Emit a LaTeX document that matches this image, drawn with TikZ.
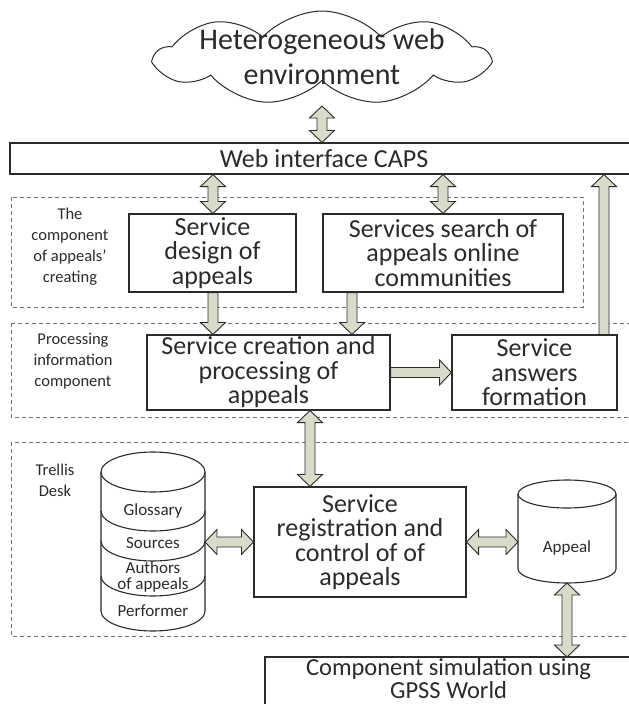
\documentclass[tikz,border=0pt]{standalone}
\usepackage{fontspec}
\setmainfont{Carlito}
\usetikzlibrary{shapes.symbols,calc}
\definecolor{arrowfill}{HTML}{D9DBC9}
\definecolor{ink}{HTML}{2B2B2B}
\def\fhw{12.5pt}\def\fsw{5pt}\def\fhl{12pt}
\tikzset{
 box/.style={draw=ink, line width=1.1pt, fill=white, inner sep=0pt, align=center, text=ink, font=\fontsize{26}{24.5}\selectfont},
 zone/.style={draw=black!55, dash pattern=on 4pt off 3pt, line width=0.7pt},
 zonelabel/.style={align=center, text=ink, font=\fontsize{16.5}{21}\selectfont, inner sep=0pt},
 dblabel/.style={align=center, text=ink, font=\fontsize{17}{15.5}\selectfont, inner sep=0pt},
 fat/.style={fill=arrowfill, draw=ink, line width=0.9pt, line join=miter},
 cyl/.style={draw=ink, line width=1.1pt},
}
\newcommand\fatDblV[2]{\filldraw[fat] let \p1=(#1), \p2=(#2) in (\x1,\y1) -- (\x1+\fhw,\y1-\fhl) -- (\x1+\fsw,\y1-\fhl) -- (\x1+\fsw,\y2+\fhl) -- (\x1+\fhw,\y2+\fhl) -- (\x1,\y2) -- (\x1-\fhw,\y2+\fhl) -- (\x1-\fsw,\y2+\fhl) -- (\x1-\fsw,\y1-\fhl) -- (\x1-\fhw,\y1-\fhl) -- cycle;}
\newcommand\fatDown[2]{\filldraw[fat] let \p1=(#1), \p2=(#2) in (\x1-\fsw,\y1) -- (\x1-\fsw,\y2+\fhl) -- (\x1-\fhw,\y2+\fhl) -- (\x1,\y2) -- (\x1+\fhw,\y2+\fhl) -- (\x1+\fsw,\y2+\fhl) -- (\x1+\fsw,\y1) -- cycle;}
\newcommand\fatUp[2]{\filldraw[fat] let \p1=(#1), \p2=(#2) in (\x1,\y1) -- (\x1+\fhw,\y1-\fhl) -- (\x1+\fsw,\y1-\fhl) -- (\x1+\fsw,\y2) -- (\x1-\fsw,\y2) -- (\x1-\fsw,\y1-\fhl) -- (\x1-\fhw,\y1-\fhl) -- cycle;}
\newcommand\fatRight[2]{\filldraw[fat] let \p1=(#1), \p2=(#2) in (\x1,\y1+\fsw) -- (\x2-\fhl,\y1+\fsw) -- (\x2-\fhl,\y1+\fhw) -- (\x2,\y1) -- (\x2-\fhl,\y1-\fhw) -- (\x2-\fhl,\y1-\fsw) -- (\x1,\y1-\fsw) -- cycle;}
\newcommand\fatDblH[2]{\filldraw[fat] let \p1=(#1), \p2=(#2) in (\x1,\y1) -- (\x1+\fhl,\y1+\fhw) -- (\x1+\fhl,\y1+\fsw) -- (\x2-\fhl,\y1+\fsw) -- (\x2-\fhl,\y1+\fhw) -- (\x2,\y1) -- (\x2-\fhl,\y1-\fhw) -- (\x2-\fhl,\y1-\fsw) -- (\x1+\fhl,\y1-\fsw) -- (\x1+\fhl,\y1-\fhw) -- cycle;}
\begin{document}
\begin{tikzpicture}[x=1pt,y=-1pt]
\useasboundingbox (0,0) rectangle (629,704);
\clip (0,0) rectangle (629,704);
\fill[white] (0,0) rectangle (629,704);

% zones
\draw[zone] (11,197) rectangle (583,307);
\draw[zone] (11,323) rectangle (640,417);
\draw[zone] (11,442) rectangle (640,636);

% cloud
\node[cloud, cloud puffs=9, cloud puff arc=95, cloud ignores aspect, minimum width=332pt, minimum height=94pt, draw=ink, line width=1pt, fill=white, inner sep=0pt] (cloud) at (322,58) {};
\node[align=center, text=ink, font=\fontsize{30}{35}\selectfont, inner sep=0pt] (cloudtext) at (322,57) {Heterogeneous web\\environment};
\coordinate (cloudb) at (322,106);

% boxes
\node[box, minimum width=628pt, minimum height=31pt] (web) at (324,158.5) {Web interface CAPS};
\node[box, minimum width=167pt, minimum height=78pt] (design) at (212.5,253) {Service\\design of\\appeals};
\node[box, minimum width=240pt, minimum height=78pt] (search) at (443,253) {Services search of\\appeals online\\communities};
\node[box, minimum width=243pt, minimum height=75pt] (creation) at (268.5,372.5) {Service creation and\\processing of\\appeals};
\node[box, minimum width=165pt, minimum height=75pt] (answers) at (534.5,372.5) {Service\\answers\\formation};
\node[box, minimum width=212pt, minimum height=110pt] (registration) at (360,542) {Service\\registration and\\control of of\\appeals};
\node[box, draw=none, fill=white, font=\fontsize{24.5}{23}\selectfont, minimum width=366pt, minimum height=42pt, anchor=north west] (gpss) at (265,657) {Component simulation using\\GPSS World};
\draw[ink, line width=1.1pt] ([yshift=-12pt]gpss.south west) -- (gpss.north west) -- ([xshift=10pt]gpss.north east);

% left database cylinder
\draw[cyl, fill=white] (101,472) -- (101,611) arc[start angle=180, end angle=360, x radius=52pt, y radius=20pt] -- (205,472);
\draw[cyl, fill=white] (153,472) ellipse [x radius=52pt, y radius=20pt];
\foreach \yy in {511,541,576}
  \draw[cyl] (101,\yy) arc[start angle=180, end angle=360, x radius=52pt, y radius=20pt];
\node[dblabel] (gl) at (153,511) {Glossary};
\node[dblabel] (src) at (153,543) {Sources};
\node[dblabel] (auth) at (153,577) {Authors\\of appeals};
\node[dblabel] (perf) at (153,611) {Performer};
\coordinate (dbR) at (205,542);

% right cylinder
\draw[cyl, fill=white] (518,494) -- (518,569) arc[start angle=180, end angle=360, x radius=49pt, y radius=14pt] -- (616,494);
\draw[cyl, fill=white] (567,494) ellipse [x radius=49pt, y radius=14pt];
\node[dblabel] (appeal) at (567,548) {Appeal};
\coordinate (apL) at (518,542);
\coordinate (apB) at (567,583);

% zone labels
\node[zonelabel] (lab1) at (70,247) {The\\component\\of appeals'\\creating};
\node[zonelabel] (lab2) at (73,361) {Processing\\information\\component};
\node[zonelabel] (lab3) at (55,480) {Trellis\\Desk};

% arrows
\fatDblV{cloudb}{322,0 |- web.north}
\fatDblV{213,0 |- web.south}{213,0 |- design.north}
\fatDblV{443,0 |- web.south}{443,0 |- search.north}
\fatUp{604,0 |- web.south}{604,0 |- answers.north}
\fatDown{213,0 |- design.south}{213,0 |- creation.north}
\fatDown{352,0 |- search.south}{352,0 |- creation.north}
\fatRight{creation.east}{answers.west}
\fatDblV{310,0 |- creation.south}{310,0 |- registration.north}
\fatDblH{dbR}{registration.west}
\fatDblH{registration.east}{apL}
\fatDblV{apB}{567,0 |- gpss.north}
\end{tikzpicture}
\end{document}
